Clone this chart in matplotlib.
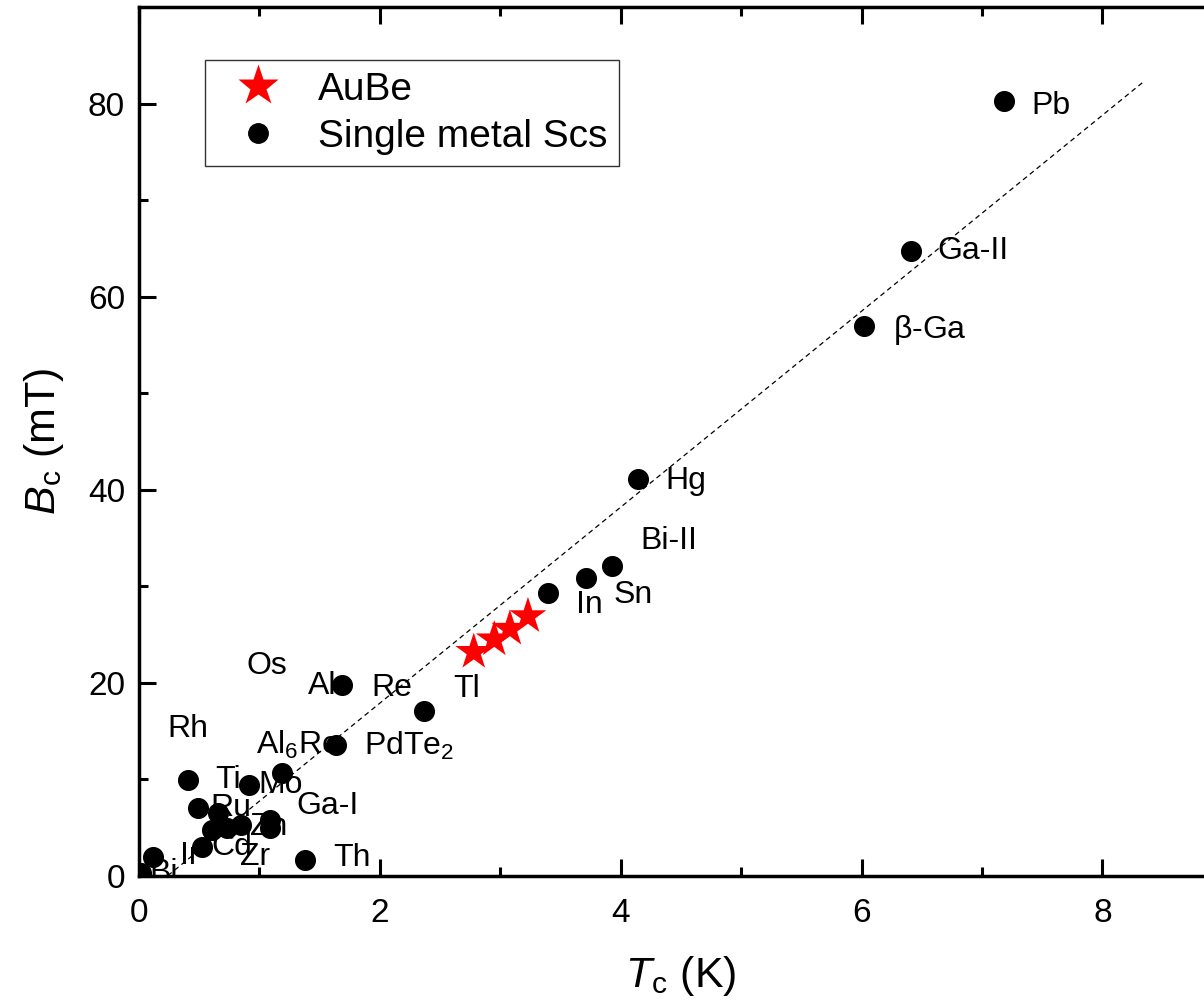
import numpy as np
import matplotlib
matplotlib.use("Agg")
import matplotlib.pyplot as plt
from matplotlib.lines import Line2D

plt.rcParams['font.family'] = ['Liberation Sans', 'DejaVu Sans']
plt.rcParams['mathtext.fontset'] = 'custom'
plt.rcParams['mathtext.rm'] = 'Liberation Sans'
plt.rcParams['mathtext.it'] = 'Liberation Sans:italic'

# AuBe samples
aube_tc = [2.78, 2.95, 3.08, 3.23]
aube_bc = [23.2, 24.5, 25.6, 26.9]

# elemental superconductors (Tc in K, Bc in mT)
metal_tc = [7.18, 6.41, 6.02, 4.14, 3.93, 3.71, 3.40, 2.37, 1.69, 1.64,
            1.19, 0.41, 0.91, 0.49, 0.66, 0.61, 0.73, 0.85, 1.09, 1.09,
            0.52, 0.12, 1.38, 0.02]
metal_bc = [80.3, 64.7, 57.0, 41.1, 32.1, 30.9, 29.3, 17.1, 19.8, 13.6,
            10.7, 9.9, 9.4, 7.0, 6.5, 4.8, 5.0, 5.3, 5.8, 5.0,
            3.0, 2.0, 1.7, 0.3]

# element names and where they sit
names = ["Pb", "Ga-II", r"$\rm\beta$-Ga", "Hg", "Bi-II", "Sn", "In", "Tl", "Re", "Al",
         "Os", "Rh", r"Al$_6$Re", r"PdTe$_2$", "Ti", "Mo", "Ga-I", "Ru", "Zn", "Cd",
         "Zr", "Ir", "Th", "Bi"]
name_x = [7.41, 6.63, 6.26, 4.37, 4.16, 3.94, 3.63, 2.61, 1.93, 1.40,
          0.89, 0.24, 0.97, 1.87, 0.63, 0.99, 1.31, 0.59, 0.92, 0.60,
          0.84, 0.34, 1.61, 0.09]
name_y = [79.8, 64.7, 56.6, 40.9, 34.7, 29.1, 28.1, 19.4, 19.5, 19.7,
          21.8, 15.2, 13.6, 13.5, 9.9, 9.4, 7.2, 7.0, 5.1, 3.0,
          2.0, 2.1, 1.9, 0.3]

# linear trend
fit_slope = 10.15
fit_intercept = -2.4
fit_range = [0.24, 8.33]

fig = plt.figure(figsize=(12.04, 10.07), dpi=100)
ax = fig.add_axes([0.1154, 0.1301, 0.9003, 0.8629])

fx = np.array(fit_range)
ax.plot(fx, fit_slope * fx + fit_intercept, color='black', lw=0.9,
        ls=(0, (4, 3)), zorder=1)

for n, x, y in zip(names, name_x, name_y):
    ax.text(x, y, n, fontsize=23, ha='left', va='center', zorder=2, clip_on=True)

ax.scatter(metal_tc, metal_bc, s=200, color='black', zorder=3, clip_on=True)
ax.scatter(aube_tc, aube_bc, s=780, marker='*', color='red', edgecolors='none', zorder=4)

ax.set_xlim(0, 9)
ax.set_ylim(0, 90)
ax.set_xticks([0, 2, 4, 6, 8])
ax.set_xticks([1, 3, 5, 7], minor=True)
ax.set_yticks([0, 20, 40, 60, 80])
ax.set_yticks([10, 30, 50, 70], minor=True)
ax.tick_params(which='both', direction='in', top=True, right=True, width=2.2,
               labelsize=24)
ax.tick_params(which='major', length=12.5)
ax.tick_params(which='minor', length=6.5)
ax.tick_params(axis='x', pad=16)
ax.tick_params(axis='y', pad=10)
for sp in ax.spines.values():
    sp.set_linewidth(2.5)

ax.set_xlabel(r'$\it{T}$$_{\rm c}$ (K)', fontsize=31, labelpad=18)
ax.set_ylabel(r'$\it{B}$$_{\rm c}$ (mT)', fontsize=31, labelpad=16)

handles = [Line2D([], [], ls='none', marker='*', color='red', markeredgecolor='none',
                  markersize=31, label='AuBe'),
           Line2D([], [], ls='none', marker='o', color='black', markersize=14,
                  label='Single metal Scs')]
leg = fig.legend(handles=handles, loc='upper left', bbox_to_anchor=(0.1703, 0.9404),
                 fontsize=28, frameon=True, fancybox=False, edgecolor='black',
                 borderaxespad=0, handletextpad=0.5, labelspacing=0.28,
                 borderpad=0.3, handlelength=2.1)
leg.get_frame().set_linewidth(1.0)

fig.savefig("out.png", dpi=100)
